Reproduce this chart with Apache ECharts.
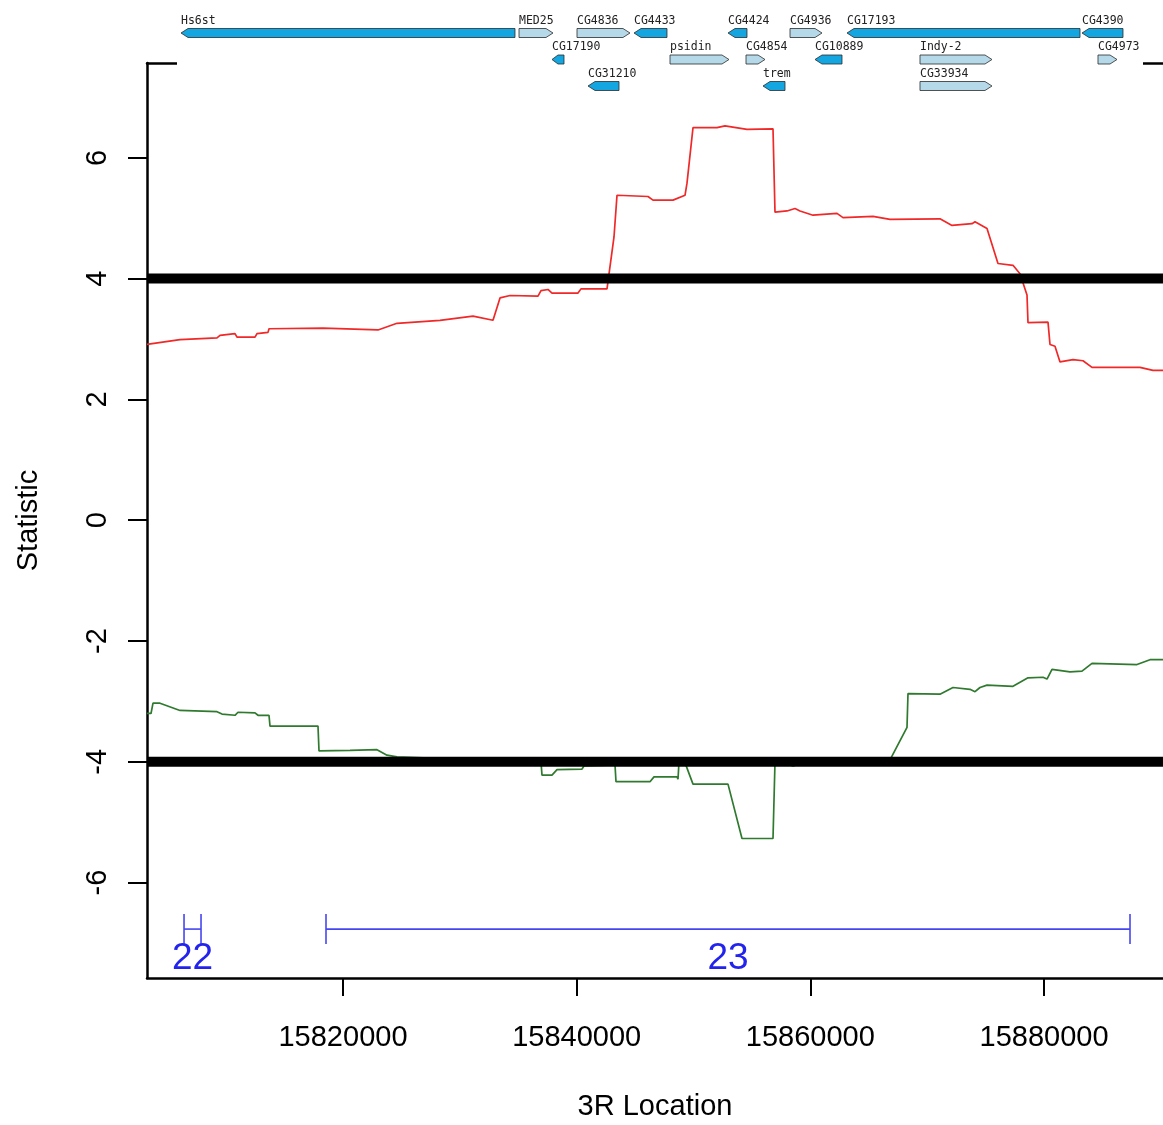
<!DOCTYPE html>
<html><head><meta charset="utf-8">
<script src="https://cdn.jsdelivr.net/npm/echarts@6/dist/echarts.min.js"></script>
<style>html,body{margin:0;padding:0;background:#fff}#c{width:1163px;height:1125px}</style>
</head><body><div id="c"></div>
<script>
// ---- axis ticks ----
const xTicks = [15820000, 15840000, 15860000, 15880000];
const yTicks = [-6, -4, -2, 0, 2, 4, 6];
const thresholds = [4, -4];
const xMin = 15803224, xMax = 15890184;

// ---- red statistic ----
const redPos = [15803224,15806049,15809216,15809472,15810756,15810927,15812468,15812639,15813581,15813666,15818288,15822996,15824622,15828302,15831127,15832839,15833438,15834294,15836690,15836947,15837546,15837888,15840114,15840370,15842596,15843195,15843366,15843452,15846105,15846533,15848245,15849272,15849443,15849957,15852011,15852695,15854578,15856804,15856975,15858002,15858687,15859115,15860227,15862281,15862795,15865363,15866818,15871097,15872124,15873836,15874093,15875120,15876061,15877345,15877944,15878544,15878629,15880341,15880512,15880940,15881368,15882481,15883337,15884107,15888215,15889328,15890184];
const redVal = [2.91,2.99,3.02,3.06,3.09,3.03,3.03,3.09,3.11,3.17,3.18,3.15,3.26,3.31,3.38,3.31,3.68,3.72,3.71,3.80,3.82,3.76,3.76,3.83,3.83,4.69,4.72,5.38,5.36,5.30,5.30,5.38,5.58,6.50,6.50,6.53,6.47,6.48,5.10,5.12,5.16,5.12,5.05,5.08,5.01,5.03,4.98,4.99,4.88,4.91,4.94,4.83,4.25,4.22,4.08,3.73,3.27,3.28,2.91,2.88,2.62,2.66,2.64,2.53,2.53,2.48,2.48];

// ---- green statistic ----
const greenPos = [15803224,15803567,15803738,15804337,15806049,15809216,15809644,15810756,15811013,15812468,15812725,15813666,15813752,15817860,15817946,15820599,15822910,15823766,15824622,15827446,15830014,15836947,15837032,15837888,15838316,15840456,15840627,15843280,15843366,15846276,15846618,15848587,15848673,15848758,15849357,15849957,15852952,15854150,15856804,15856975,15857831,15858516,15859371,15866818,15868273,15868358,15871097,15872210,15873665,15874093,15874521,15875120,15877345,15878629,15879913,15880255,15880683,15882224,15883251,15884107,15887958,15889071,15890184];
const greenVal = [-3.20,-3.20,-3.03,-3.03,-3.15,-3.17,-3.21,-3.23,-3.18,-3.19,-3.23,-3.23,-3.41,-3.41,-3.82,-3.81,-3.80,-3.89,-3.92,-3.94,-3.98,-4.00,-4.22,-4.22,-4.13,-4.12,-4.07,-4.05,-4.33,-4.33,-4.25,-4.25,-4.29,-4.00,-4.06,-4.37,-4.37,-5.27,-5.27,-4.00,-4.02,-4.07,-4.02,-3.97,-3.43,-2.87,-2.88,-2.77,-2.80,-2.84,-2.77,-2.73,-2.75,-2.61,-2.60,-2.63,-2.47,-2.51,-2.50,-2.37,-2.39,-2.31,-2.31];

// ---- genes ----
const geneNames = ['Hs6st','MED25','CG4836','CG4433','CG4424','CG4936','CG17193','CG4390','CG17190','psidin','CG4854','CG10889','Indy-2','CG4973','CG31210','trem','CG33934'];
const geneStart = [15806134,15835064,15840028,15844907,15852952,15858259,15863137,15883251,15837888,15847988,15854493,15860398,15869385,15884620,15840970,15855948,15869385];
const geneEnd   = [15834721,15837974,15844564,15847731,15854578,15860998,15883080,15886760,15838915,15853038,15856119,15862709,15875548,15886247,15843623,15857831,15875548];
const geneStrand = [-1,1,1,-1,-1,1,-1,-1,-1,1,1,-1,1,1,-1,-1,1];
const geneRow = [1,1,1,1,1,1,1,1,2,2,2,2,2,2,3,3,3];

// ---- regions ----
const regionStart = [15806393, 15818545];
const regionEnd = [15807848, 15887360];
const regionLabel = ['22', '23'];

const FONT = 'Liberation Sans, Arial, Helvetica, sans-serif';
const REGION_LEVEL = -6.77;

const zip = (a, b) => a.map((v, i) => [v, b[i]]);

const chart = echarts.init(document.getElementById('c'), null, {renderer: 'canvas'});

const option = {
  animation: false,
  backgroundColor: '#fff',
  grid: [
    {left: 147, right: 0, top: 63, bottom: 147, containLabel: false, outerBoundsMode: 'none'},
    {left: 147, right: 0, top: 33, height: 53, containLabel: false, outerBoundsMode: 'none'}
  ],
  xAxis: [
    {
      gridIndex: 0, type: 'value', min: xMin, max: xMax, position: 'bottom',
      axisLine: {show: true, onZero: false, lineStyle: {color: '#000', width: 2.5}},
      axisTick: {show: true, length: 18, customValues: xTicks, lineStyle: {color: '#000', width: 2}},
      axisLabel: {customValues: xTicks, margin: 45, fontSize: 29, color: '#000', fontFamily: FONT,
        formatter: v => String(v)},
      splitLine: {show: false},
      name: '3R Location', nameLocation: 'middle', nameGap: 114,
      nameTextStyle: {fontSize: 29, color: '#000', fontFamily: FONT}
    },
    {
      gridIndex: 0, type: 'value', min: xMin, max: xMax, position: 'top',
      axisLine: {show: true, onZero: false, lineStyle: {color: '#000', width: 2.5}},
      axisTick: {show: false}, axisLabel: {show: false}, splitLine: {show: false}
    },
    {gridIndex: 1, type: 'value', min: xMin, max: xMax, show: false}
  ],
  yAxis: [
    {
      gridIndex: 0, type: 'value', min: -7.58, max: 7.57,
      axisLine: {show: true, onZero: false, lineStyle: {color: '#000', width: 2.5}},
      axisTick: {show: true, length: 19, customValues: yTicks, lineStyle: {color: '#000', width: 2}},
      axisLabel: {customValues: yTicks, rotate: 90, margin: 35, fontSize: 29, color: '#000', fontFamily: FONT},
      splitLine: {show: false},
      name: 'Statistic', nameLocation: 'middle', nameGap: 104,
      nameTextStyle: {fontSize: 29, color: '#000', fontFamily: FONT}
    },
    {gridIndex: 1, type: 'value', min: 1, max: 3, inverse: true, show: false}
  ],
  series: [
    {
      type: 'line', xAxisIndex: 0, yAxisIndex: 0, data: zip(redPos, redVal),
      showSymbol: false, z: 3, lineStyle: {color: '#F02828', width: 1.7}
    },
    {
      type: 'line', xAxisIndex: 0, yAxisIndex: 0, data: zip(greenPos, greenVal),
      showSymbol: false, z: 3, lineStyle: {color: '#2F7A2F', width: 1.7}
    },
    ...thresholds.map(t => ({
      type: 'line', xAxisIndex: 0, yAxisIndex: 0, data: [[xMin, t], [xMax, t]],
      showSymbol: false, z: 4, lineStyle: {color: '#000', width: 10}
    })),
    {
      type: 'custom', xAxisIndex: 0, yAxisIndex: 0, z: 5,
      data: regionStart.map((s, i) => [s, regionEnd[i]]),
      renderItem: (params, api) => {
        const a = api.coord([api.value(0), REGION_LEVEL]);
        const b = api.coord([api.value(1), REGION_LEVEL]);
        const col = '#4646F0';
        return {type: 'group', children: [
          {type: 'line', shape: {x1: a[0], y1: a[1], x2: b[0], y2: b[1]}, style: {stroke: col, lineWidth: 1.6}},
          {type: 'line', shape: {x1: a[0], y1: a[1] - 15, x2: a[0], y2: a[1] + 15}, style: {stroke: col, lineWidth: 1.6}},
          {type: 'line', shape: {x1: b[0], y1: b[1] - 15, x2: b[0], y2: b[1] + 15}, style: {stroke: col, lineWidth: 1.6}},
          {type: 'text', style: {text: regionLabel[params.dataIndex], x: (a[0] + b[0]) / 2, y: a[1] + 30,
            align: 'center', verticalAlign: 'middle', font: '37px ' + FONT, fill: '#2323EE'}}
        ]};
      }
    },
    {
      // white backing of the gene track (covers the top frame, as in the original image)
      type: 'custom', xAxisIndex: 2, yAxisIndex: 1, z: 6,
      data: [[Math.min(...geneStart), Math.max(...geneEnd)]],
      renderItem: (params, api) => {
        const a = api.coord([api.value(0), 1]);
        const b = api.coord([api.value(1), 1]);
        return {type: 'rect', shape: {x: a[0] - 4, y: 0, width: b[0] - a[0] + 24, height: 95},
          style: {fill: '#fff'}};
      }
    },
    {
      type: 'custom', xAxisIndex: 2, yAxisIndex: 1, z: 7,
      data: geneStart.map((s, i) => [s, geneEnd[i], geneRow[i], geneStrand[i]]),
      renderItem: (params, api) => {
        const s = api.value(0), e = api.value(1), row = api.value(2), strand = api.value(3);
        const a = api.coord([s, row]), b = api.coord([e, row]);
        const h = 9, y = a[1], x0 = a[0], x1 = b[0];
        const tip = Math.min(7, (x1 - x0) * 0.5);
        let pts;
        if (strand > 0) pts = [[x0, y - h / 2], [x1 - tip, y - h / 2], [x1, y], [x1 - tip, y + h / 2], [x0, y + h / 2]];
        else pts = [[x1, y - h / 2], [x0 + tip, y - h / 2], [x0, y], [x0 + tip, y + h / 2], [x1, y + h / 2]];
        return {type: 'group', children: [
          {type: 'polygon', shape: {points: pts},
            style: {fill: strand > 0 ? '#B5D9E8' : '#14A6E0', stroke: '#2b2b2b', lineWidth: 0.8}},
          {type: 'text', style: {text: geneNames[params.dataIndex], x: x0, y: y - 12,
            align: 'left', verticalAlign: 'middle', font: '11.5px DejaVu Sans Mono', fill: '#222'}}
        ]};
      }
    }
  ]
};
chart.setOption(option);
</script>
</body></html>
